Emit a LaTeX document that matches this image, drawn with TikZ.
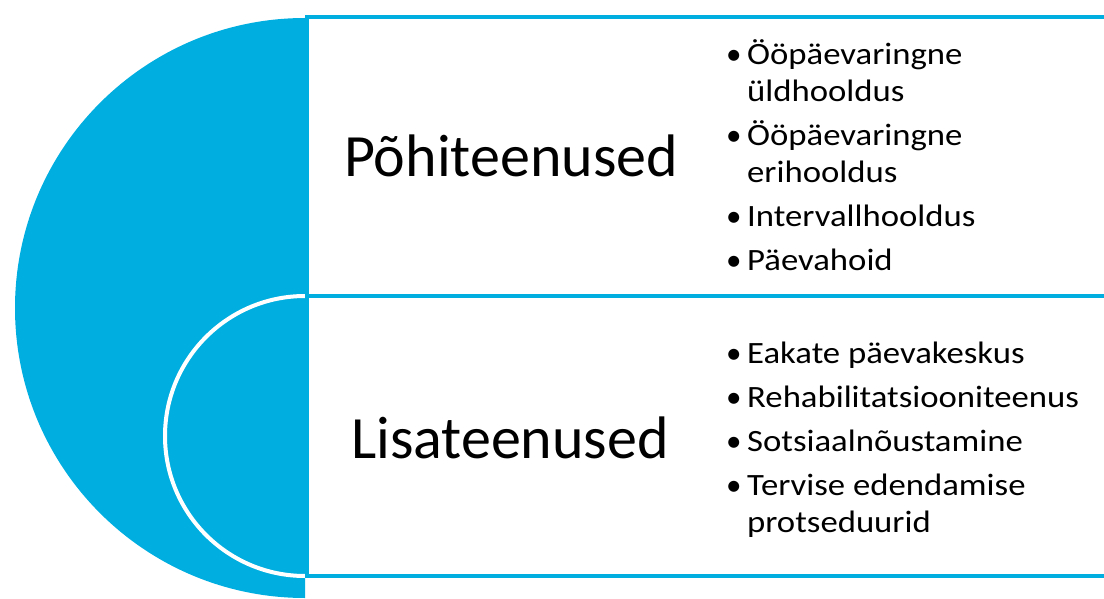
\documentclass[tikz,border=0pt]{standalone}
\usepackage{fontspec}
\setmainfont{Carlito}
\newfontfamily\listfamily[FakeStretch=1.12]{Carlito}
\definecolor{serviceblue}{RGB}{0,174,224}
\newcommand{\biglabel}{\fontsize{60}{72}\selectfont}
\newcommand{\listfont}{\listfamily\fontsize{31}{37}\selectfont}
\newcommand{\itm}{{\rmfamily\textbullet}}
\tikzset{
	box/.style={draw=serviceblue,line width=4pt,fill=white},
	list/.style={anchor=base west,inner sep=0pt,font=\listfont}
}
\begin{document}
\begin{tikzpicture}[x=1pt,y=-1pt]
						\useasboundingbox (0,0) rectangle (1104,599);
						\clip (0,0) rectangle (1104,599);
						\fill[serviceblue] (305,18) arc[start angle=270,end angle=90,radius=290] -- cycle;
						\filldraw[fill=serviceblue,draw=white,line width=4pt] (305,296) arc[start angle=270,end angle=90,radius=140];
						\draw[box] (307,17.5) rectangle (1120,296);
						\draw[box] (307,296) rectangle (1120,576);
						
						\begin{scope}[every node/.style={anchor=base,inner sep=0pt,font=\biglabel}]
							\node (main) at (511,177) {Põhiteenused};
							\node (extra) at (510,458) {Lisateenused};
						\end{scope}
						
						\begin{scope}[every node/.style={list}]
							\node (mainlist) at (726,65) {\begin{tabular}[t]{@{}p{21pt}@{}l@{}}
								\itm & Ööpäevaringne\\
								& üldhooldus\\[7pt]
								\itm & Ööpäevaringne\\
								& erihooldus\\[7pt]
								\itm & Intervallhooldus\\[7pt]
								\itm & Päevahoid
							\end{tabular}};
							\node (extralist) at (726,363) {\begin{tabular}[t]{@{}p{21pt}@{}l@{}}
								\itm & Eakate päevakeskus\\[7pt]
								\itm & Rehabilitatsiooniteenus\\[7pt]
								\itm & Sotsiaalnõustamine\\[7pt]
								\itm & Tervise edendamise\\
								& protseduurid
							\end{tabular}};
						\end{scope}
					\end{tikzpicture}
\end{document}
